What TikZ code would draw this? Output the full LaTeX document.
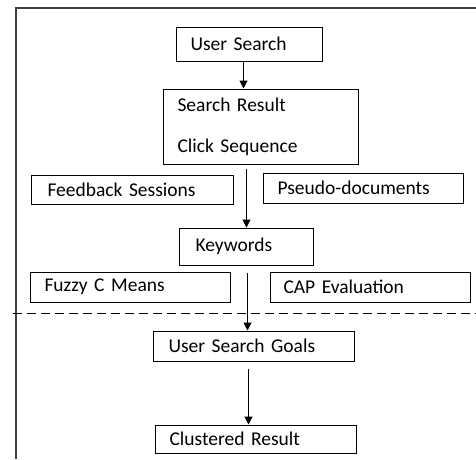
\documentclass[tikz,border=0pt]{standalone}
\usepackage{fontspec}
\setmainfont{Carlito}
\usetikzlibrary{arrows.meta}
\begin{document}
\begin{tikzpicture}[x=1pt,y=-1pt,
  box/.style={draw,line width=1pt,anchor=west,align=left,inner xsep=14pt,inner ysep=0pt,font=\fontsize{19.5}{24}\selectfont},
  arr/.style={-{Triangle[length=8pt,width=8pt]},line width=1pt},
  frame/.style={draw=black!75,line width=1.3pt},
  cut/.style={line width=1pt,dash pattern=on 9pt off 5pt}]
  \useasboundingbox (0,0) rectangle (476,459);
  \node[box,text width=118pt,minimum height=34pt] (us) at (176,44) {User Search};
  \node[box,text width=167pt,minimum height=75pt] (sr) at (163,126.5) {Search Result\\[17pt]Click Sequence};
  \node[box,text width=170pt,inner xsep=16pt,minimum height=29pt] (fs) at (31,189.5) {Feedback Sessions};
  \node[box,text width=172pt,minimum height=30pt] (pd) at (263,188) {Pseudo-documents};
  \node[box,text width=102pt,inner xsep=16pt,minimum height=37pt] (kw) at (179,246.5) {Keywords};
  \node[box,text width=172pt,minimum height=30pt] (fcm) at (30,287) {Fuzzy C Means};
  \node[box,text width=174pt,inner xsep=13pt,minimum height=30pt] (cap) at (270,287) {CAP Evaluation};
  \node[box,text width=171pt,inner xsep=15pt,minimum height=30pt] (goals) at (153,346) {User Search Goals};
  \node[box,text width=173pt,minimum height=28pt] (cr) at (155,439) {Clustered Result};
  \draw[arr] ([xshift=-6pt]us.south) -- ([xshift=-6pt]us.south |- sr.north);
  \draw[arr,shorten <=4pt] (sr.south -| kw.north) -- (kw.north);
  \draw[arr,shorten <=7pt] ([xshift=1pt]kw.south) -- ([xshift=1pt]kw.south |- goals.north);
  \draw[arr,shorten <=7pt] ([xshift=-5.5pt]goals.south) -- ([xshift=-5.5pt]goals.south |- cr.north);
  \draw[frame] (16,459) -- (16,8) -- (476,8);
  \draw[cut] (13,313) -- (476,313);
\end{tikzpicture}
\end{document}
